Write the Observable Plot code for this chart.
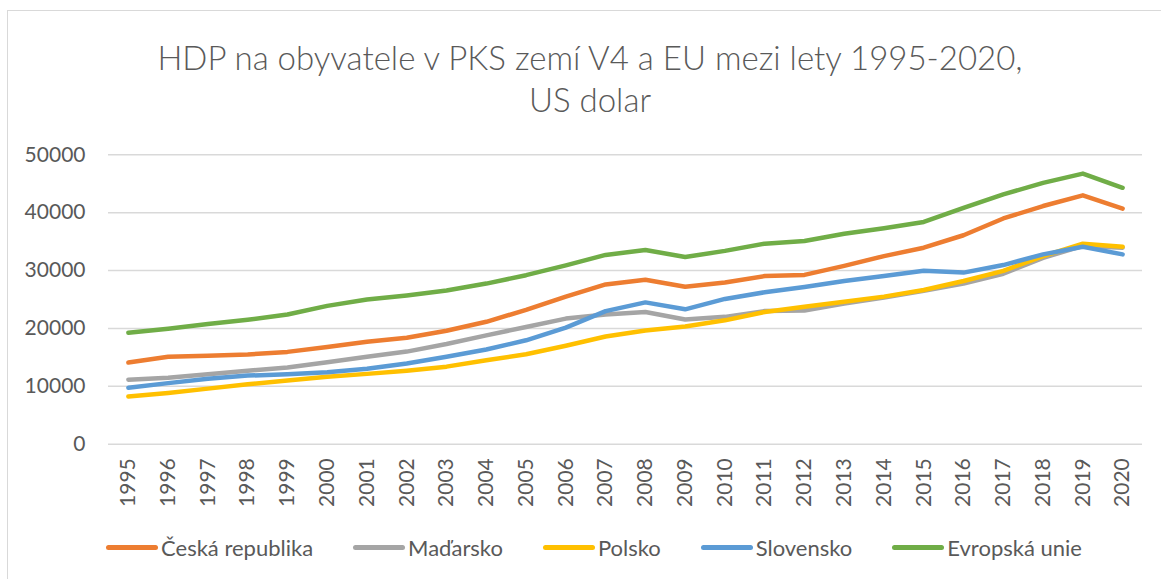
<!DOCTYPE html>
<html>
<head>
<meta charset="utf-8">
<script src="https://cdn.jsdelivr.net/npm/d3@7"></script>
<script src="https://cdn.jsdelivr.net/npm/@observablehq/plot@0.6"></script>
<style>
  html, body { margin: 0; padding: 0; background: #fff; }
  body { width: 1161px; height: 579px; overflow: hidden; position: relative; font-family: Lato, "Liberation Sans", sans-serif; color: #595959; }
  #frame { position: absolute; left: 7px; top: 10px; width: 1200px; height: 620px; border: 1.5px solid #d9d9d9; box-sizing: border-box; }
  #title { position: absolute; left: 0; top: 36px; width: 1180px; text-align: center; font-size: 33px; line-height: 42px; font-weight: 300; color: #595959; }
  #chart { position: absolute; left: 0; top: 120px; }
  #legend { position: absolute; left: 0; top: 534px; width: 1188px; display: flex; justify-content: center; align-items: center; font-size: 22px; color: #595959; }
  .item { display: flex; align-items: center; margin: 0 20px; }
  .sw { width: 52px; height: 5px; border-radius: 3px; margin-right: 3px; }
</style>
</head>
<body>
<div id="frame"></div>
<div id="title">HDP na obyvatele v PKS zemí V4 a EU mezi lety 1995-2020,<br>US dolar</div>
<div id="chart"></div>
<div id="legend"></div>
<script>
const years = ["1995","1996","1997","1998","1999","2000","2001","2002","2003","2004","2005","2006","2007","2008","2009","2010","2011","2012","2013","2014","2015","2016","2017","2018","2019","2020"];
const seriesNames = ["Česká republika", "Maďarsko", "Polsko", "Slovensko", "Evropská unie"];
const seriesColors = ["#ED7D31", "#A5A5A5", "#FFC000", "#5B9BD5", "#70AD47"];
const cz = [14100, 15100, 15300, 15500, 15950, 16800, 17700, 18400, 19600, 21150, 23200, 25500, 27600, 28400, 27200, 27950, 29050, 29250, 30800, 32500, 33950, 36100, 39000, 41150, 43000, 40700];
const hu = [11150, 11500, 12100, 12700, 13250, 14150, 15100, 16000, 17300, 18800, 20250, 21700, 22400, 22850, 21550, 22000, 23000, 23100, 24300, 25350, 26500, 27750, 29450, 32200, 34250, 33950];
const pl = [8250, 8850, 9600, 10350, 11000, 11650, 12150, 12700, 13400, 14500, 15550, 17000, 18600, 19650, 20350, 21400, 22850, 23750, 24600, 25500, 26650, 28200, 29950, 32500, 34650, 34100];
const sk = [9750, 10550, 11300, 11850, 12100, 12450, 13050, 13950, 15100, 16350, 17950, 20150, 23000, 24500, 23300, 25100, 26250, 27150, 28200, 29050, 29950, 29650, 30950, 32800, 34100, 32800];
const eu = [19250, 19950, 20750, 21500, 22400, 23900, 25000, 25700, 26550, 27750, 29200, 30900, 32700, 33550, 32350, 33400, 34650, 35100, 36350, 37300, 38400, 40850, 43150, 45150, 46750, 44300];
const yTicks = [0, 10000, 20000, 30000, 40000, 50000];

const seriesValues = [cz, hu, pl, sk, eu];
const data = [];
seriesNames.forEach((name, i) => {
  years.forEach((yr, j) => data.push({series: name, year: yr, value: seriesValues[i][j]}));
});

const chart = Plot.plot({
  width: 1161,
  height: 400,
  marginTop: 34.3,
  marginBottom: 76.3,
  marginLeft: 108,
  marginRight: 19,
  style: { fontFamily: "Lato, 'Liberation Sans', sans-serif", fontSize: "21px", color: "#595959", background: "transparent", overflow: "visible" },
  x: { type: "point", domain: years, padding: 0.5, round: false },
  y: { domain: [0, 50000] },
  color: { domain: seriesNames, range: seriesColors },
  marks: [
    Plot.ruleY(yTicks, { stroke: "#d9d9d9", strokeWidth: 1.5 }),
    Plot.axisY({ ticks: yTicks, tickSize: 0, tickPadding: 23, tickFormat: d => String(d), label: null }),
    Plot.axisX({ tickRotate: -90, tickSize: 0, tickPadding: 14, label: null }),
    Plot.line(data, { x: "year", y: "value", z: "series", stroke: "series", strokeWidth: 4.5, strokeLinecap: "round", strokeLinejoin: "round" })
  ]
});
document.getElementById("chart").appendChild(chart);

const legend = document.getElementById("legend");
seriesNames.forEach((name, i) => {
  const item = document.createElement("div");
  item.className = "item";
  const sw = document.createElement("div");
  sw.className = "sw";
  sw.style.background = seriesColors[i];
  const t = document.createElement("span");
  t.textContent = name;
  item.appendChild(sw);
  item.appendChild(t);
  legend.appendChild(item);
});
</script>
</body>
</html>
